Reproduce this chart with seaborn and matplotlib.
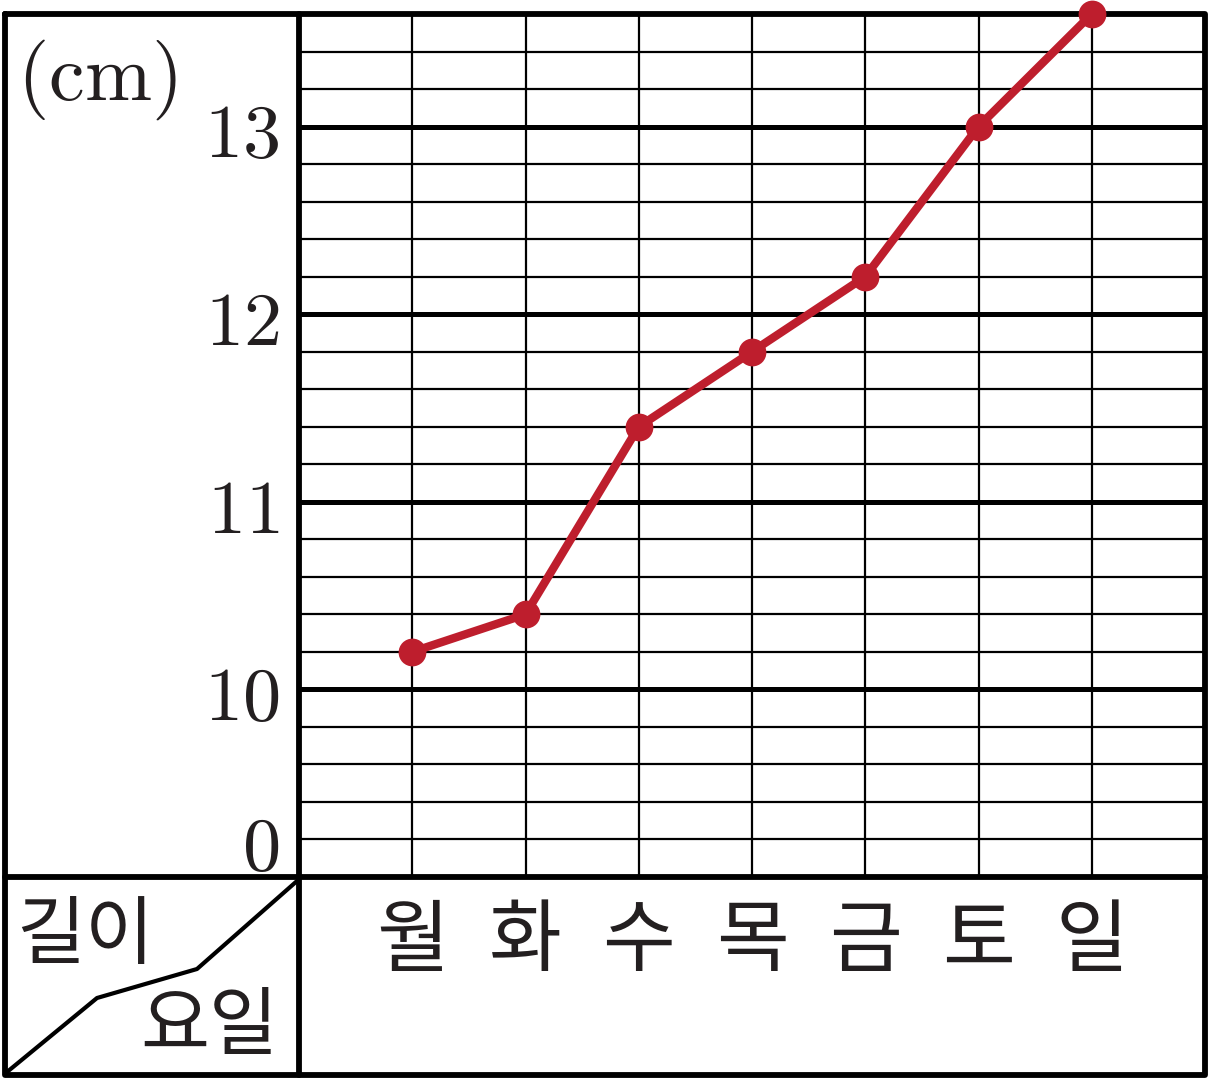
import numpy as np
import pandas as pd
import seaborn as sns
import matplotlib.pyplot as plt
from matplotlib.lines import Line2D

days = ["월", "화", "수", "목", "금", "토", "일"]
lengths = [10.2, 10.4, 11.4, 11.8, 12.2, 13.0, 13.6]
ytick_values = [9.2, 10, 11, 12, 13]
ytick_labels = ["0", "10", "11", "12", "13"]

LINE_COLOR = "#BE1E2D"
W, H = 1210, 1080

sns.set_theme(style="white")
plt.rcParams["font.family"] = ["Noto Sans CJK KR", "DejaVu Sans"]
plt.rcParams["mathtext.fontset"] = "cm"

fig = plt.figure(figsize=(W / 100, H / 100), dpi=100)

# background axes in pixel coordinates for the table frame
bg = fig.add_axes([0, 0, 1, 1], zorder=0)
bg.set_xlim(0, W)
bg.set_ylim(H, 0)
bg.axis("off")
lw_frame = 4.2
bg.add_line(Line2D([5, 1205, 1205, 5, 5], [14, 14, 1075, 1075, 14], color="black", lw=lw_frame))
bg.add_line(Line2D([299, 299], [14, 1075], color="black", lw=lw_frame))
bg.add_line(Line2D([5, 1205], [877, 877], color="black", lw=lw_frame))
bg.add_line(Line2D([7, 97, 197, 297], [1072, 998, 969, 881], color="black", lw=3))
bg.text(97, 80, r"$\mathrm{(cm)}$", fontsize=58, ha="center", va="center", color="#231f20")
bg.text(16, 936, "길이", fontsize=54, ha="left", va="center", color="#231f20")
bg.text(278, 1028, "요일", fontsize=54, ha="right", va="center", color="#231f20")

# main chart
ax = fig.add_axes([299 / W, (H - 877) / H, (1205 - 299) / W, (877 - 14) / H], zorder=1)
df = pd.DataFrame({"day": days, "length": lengths})
sns.lineplot(data=df, x="day", y="length", ax=ax, color=LINE_COLOR, lw=6,
             marker="o", markersize=20, markeredgewidth=0, sort=False)
for art in ax.lines:
    art.set_clip_on(False)
    art.set_zorder(5)

ax.set_xlim(-1, 7)
ax.set_ylim(9.0, 13.6)
ax.set_yticks(ytick_values)
ax.set_yticklabels([rf"$\mathrm{{{t}}}$" for t in ytick_labels])
ax.set_yticks(np.arange(9.2, 13.6, 0.2), minor=True)
ax.tick_params(axis="y", which="both", length=0, pad=14, labelsize=55, labelcolor="#231f20")
ax.tick_params(axis="x", length=0, pad=18, labelsize=57, labelcolor="#231f20")
for lbl in ax.get_xticklabels():
    lbl.set_va("top")
ax.set_xlabel("")
ax.set_ylabel("")

ax.grid(True, axis="x", color="black", lw=1.6)
ax.grid(True, axis="y", which="major", color="black", lw=3.6)
ax.grid(True, axis="y", which="minor", color="black", lw=1.6)
ax.get_ygridlines()[0].set_linewidth(1.6)
for s in ax.spines.values():
    s.set_visible(False)
ax.set_facecolor("none")

fig.savefig("out.png", dpi=100)
